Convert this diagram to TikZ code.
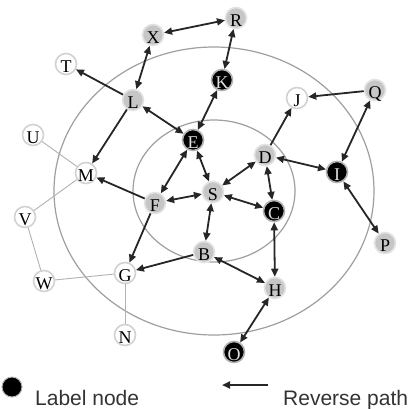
\documentclass[tikz,border=0pt]{standalone}
\usepackage{fontspec}
\setmainfont{Liberation Serif}
\newfontfamily\nodefont{Liberation Serif}
\newfontfamily\legendfont{Liberation Sans}
\usetikzlibrary{arrows.meta}
\newcommand{\lb}[1]{\smash{\raisebox{-8.5pt}{#1}}}
\begin{document}
\begin{tikzpicture}[x=1pt,y=-1pt,
  base/.style={circle,minimum size=21pt,inner sep=0pt,line width=1.6pt,font=\nodefont\fontsize{18}{18}\selectfont},
  graynode/.style={base,fill=gray!45,draw=gray!22},
  whitenode/.style={base,fill=white,draw=gray!35},
  blacknode/.style={base,fill=black,draw=gray!60,text=gray!25},
  arr/.style={draw=black!85,line width=1.8pt,-{Triangle[length=8pt,width=7pt]}},
  darr/.style={draw=black!85,line width=1.8pt,{Triangle[length=8pt,width=7pt]}-{Triangle[length=8pt,width=7pt]}},
  thin/.style={draw=gray!60,line width=0.9pt},
  ring/.style={draw=gray!75,line width=1.2pt}]
\useasboundingbox (0,0) rectangle (417,408);
\fill[white] (0,0) rectangle (417,408);
\draw[ring] (214,191) ellipse [x radius=160, y radius=144];
\draw[ring] (214,191) ellipse [x radius=81, y radius=71];
% nodes
\node[graynode] (X) at (153,35) {\lb{X}};
\node[whitenode] (T) at (66,64) {\lb{T}};
\node[graynode] (L) at (133,100) {\lb{L}};
\node[whitenode] (U) at (33,135) {\lb{U}};
\node[whitenode] (M) at (86,173) {\lb{M}};
\node[blacknode] (E) at (193,140) {\lb{E}};
\node[graynode] (R) at (236,18) {\lb{R}};
\node[blacknode] (K) at (222,80) {\lb{K}};
\node[whitenode] (J) at (297,98) {\lb{J}};
\node[graynode] (Q) at (375,90) {\lb{Q}};
\node[graynode] (D) at (265,155) {\lb{D}};
\node[blacknode] (I) at (337,172) {\lb{I}};
\node[graynode] (S) at (213,192) {\lb{S}};
\node[graynode] (F) at (155,203) {\lb{F}};
\node[blacknode] (C) at (274,211) {\lb{C}};
\node[graynode] (B) at (204,252) {\lb{B}};
\node[whitenode] (V) at (25,217) {\lb{V}};
\node[whitenode] (W) at (44,281) {\lb{W}};
\node[whitenode] (G) at (125,273) {\lb{G}};
\node[whitenode] (N) at (125,335) {\lb{N}};
\node[graynode] (P) at (385,243) {\lb{P}};
\node[graynode] (H) at (275,288) {\lb{H}};
\node[blacknode] (O) at (234,352) {\lb{O}};
% thin links
\draw[thin] (U) -- (M);
\draw[thin] (M) -- (V);
\draw[thin] (V) -- (W);
\draw[thin] (W) -- (G);
\draw[thin] (G) -- (N);
% arrows
\draw[darr] (X) -- (R);
\draw[darr] (X) -- (L);
\draw[darr] (R) -- (K);
\draw[darr] (K) -- (E);
\draw[arr] (L) -- (T);
\draw[darr] (L) -- (E);
\draw[arr] (L) -- (M);
\draw[darr] (E) -- (S);
\draw[darr] (E) -- (F);
\draw[arr] (F) -- (M);
\draw[darr] (F) -- (S);
\draw[arr] (F) -- (G);
\draw[darr] (S) -- (D);
\draw[darr] (S) -- (C);
\draw[darr] (S) -- (B);
\draw[arr] (D) -- (J);
\draw[darr] (D) -- (I);
\draw[darr] (D) -- (C);
\draw[arr] (Q) -- (J);
\draw[darr] (Q) -- (I);
\draw[darr] (I) -- (P);
\draw[darr] (C) -- (H);
\draw[darr] (B) -- (H);
\draw[arr] (B) -- (G);
\draw[darr] (H) -- (O);
% legend
\node[circle,fill=black,draw=gray!60,line width=1pt,minimum size=20pt,inner sep=0pt] (dot) at (12,387) {};
\node[anchor=base west,inner sep=0pt,font=\legendfont\fontsize{21}{21}\selectfont,text=black!80] (lt) at (35,405) {Label node};
\coordinate (a1) at (268,385);
\coordinate (a2) at (222,385);
\draw[arr,line width=2.2pt] (a1) -- (a2);
\node[anchor=base west,inner sep=0pt,font=\legendfont\fontsize{21}{21}\selectfont,text=black!80] (rt) at (283,405) {Reverse path};
\end{tikzpicture}
\end{document}
